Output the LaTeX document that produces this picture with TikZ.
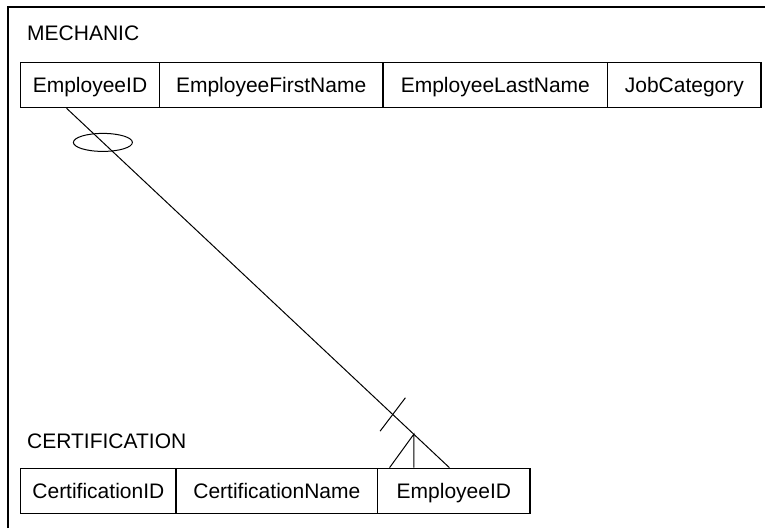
\documentclass[tikz,border=0pt]{standalone}
\usepackage{fontspec}
\setmainfont{Liberation Sans}
\usetikzlibrary{calc}
\begin{document}
\begin{tikzpicture}[x=1pt,y=-1pt,
  cell/.style={draw,line width=1.1pt,minimum height=45pt,inner sep=0pt,text height=15pt,text depth=0pt,font=\fontsize{21}{24}\selectfont},
  title/.style={anchor=base west,inner sep=0pt,font=\fontsize{21}{24}\selectfont},
  rel/.style={line width=1pt}]
\useasboundingbox (0,0) rectangle (765,528);
\draw[line width=1.3pt] (8,528) -- (8,7) -- (765,7);
\node[title] (mt) at (27,40) {MECHANIC};
\node[cell,minimum width=138.6pt] (m1) at (90,85.2) {EmployeeID};
\node[cell,minimum width=223.7pt] (m2) at (271.15,85.2) {EmployeeFirstName};
\node[cell,minimum width=224.7pt] (m3) at (495.35,85.2) {EmployeeLastName};
\node[cell,minimum width=153.3pt] (m4) at (684.35,85.2) {JobCategory};
\node[title] (ct) at (27,448.3) {CERTIFICATION};
\node[cell,minimum width=155.3pt] (c1) at (98.35,490.7) {CertificationID};
\node[cell,minimum width=201.7pt] (c2) at (276.85,490.7) {CertificationName};
\node[cell,minimum width=152.3pt] (c3) at (453.85,490.7) {EmployeeID};
\coordinate (s) at ($(m1.south west)!0.332!(m1.south east)$);
\coordinate (t) at ($(c3.north west)!0.471!(c3.north east)$);
\draw[rel] (s) -- (t);
\coordinate (e) at ($(s)!0.095!(t)$);
\draw[rel] (e) ellipse [x radius=29.5, y radius=9];
\coordinate (b) at ($(s)!0.852!(t)$);
\draw[rel] ($(b)+(-12.65,16.7)$) -- ($(b)+(12.65,-16.7)$);
\coordinate (j) at ($(s)!0.907!(t)$);
\coordinate (l1) at ($(c3.north west)!0.081!(c3.north east)$);
\draw[rel] (l1) -- (j) -- (j |- c3.north);
\end{tikzpicture}
\end{document}
